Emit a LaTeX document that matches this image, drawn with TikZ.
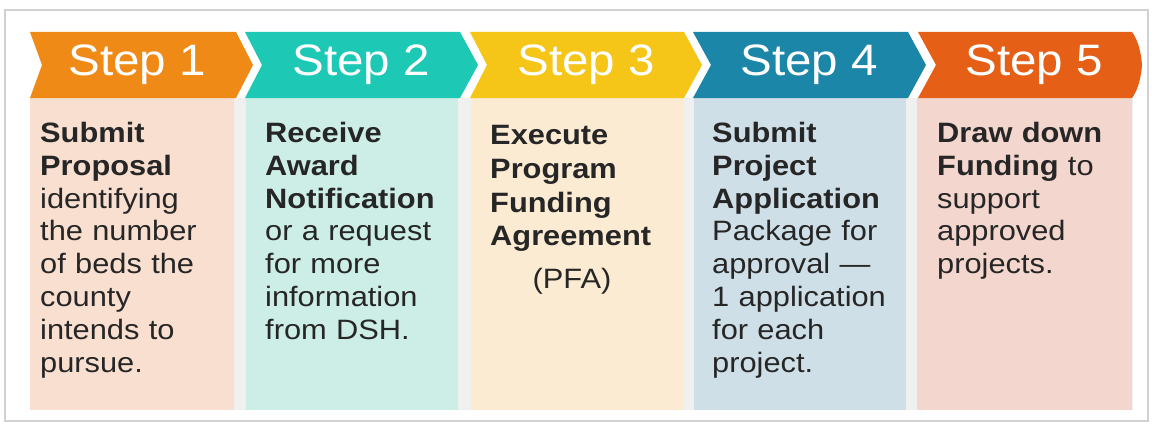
\documentclass[tikz,border=0pt]{standalone}
\usepackage{fontspec}
\newfontfamily\stepfont[FakeStretch=1.08]{Liberation Sans}
\newfontfamily\bodyfont[FakeStretch=1.1]{Liberation Sans}
\definecolor{cA}{HTML}{EF8A17}\definecolor{pA}{HTML}{F8DFD0}
\definecolor{cB}{HTML}{1DC8B5}\definecolor{pB}{HTML}{CDEEE6}
\definecolor{cC}{HTML}{F5C518}\definecolor{pC}{HTML}{FBEBD2}
\definecolor{cD}{HTML}{1C86A8}\definecolor{pD}{HTML}{CFDFE7}
\definecolor{cE}{HTML}{E65F17}\definecolor{pE}{HTML}{F3D6CD}
\definecolor{txt}{HTML}{262626}
\begin{document}
\begin{tikzpicture}[x=1pt,y=-1pt,
  steplabel/.style={text=white,font=\stepfont\fontsize{44}{48}\selectfont,inner sep=0pt},
  bodytext/.style={text=txt,font=\bodyfont\fontsize{28}{32.8}\selectfont,inner sep=0pt,align=left,anchor=north west,text width=200pt}]
\useasboundingbox (0,0) rectangle (1155,428);
\fill[white] (0,0) rectangle (1155,428);
\draw[black!18,line width=1.2pt,fill=white] (5,10) rectangle (1148,421);
\fill[black!6] (30,98) rectangle (1133,410);
% panels
\fill[pA] (30,98) rectangle (234,410);
\fill[pB] (246,98) rectangle (458,410);
\fill[pC] (471,98) rectangle (684,410);
\fill[pD] (694,98) rectangle (906,410);
\fill[pE] (917,98) rectangle (1132,410);
% chevrons
\fill[cA] (30,32) -- (236,32) -- (253,65) -- (236,98) -- (30,98) -- (42,65) -- cycle;
\fill[cB] (245,32) -- (460,32) -- (478,65) -- (460,98) -- (245,98) -- (262,65) -- cycle;
\fill[cC] (470,32) -- (684,32) -- (702,65) -- (684,98) -- (470,98) -- (487,65) -- cycle;
\fill[cD] (693,32) -- (908,32) -- (926,65) -- (908,98) -- (693,98) -- (711,65) -- cycle;
\fill[cE] (918,32) -- (1132,32) .. controls (1138,40) and (1141,52) .. (1142,65) .. controls (1141,78) and (1138,90) .. (1132,98) -- (918,98) -- (936,65) -- cycle;
% step labels
\node[steplabel] (s1) at (137,65) {Step 1};
\node[steplabel] (s2) at (361,65) {Step 2};
\node[steplabel] (s3) at (586,65) {Step 3};
\node[steplabel] (s4) at (809,65) {Step 4};
\node[steplabel] (s5) at (1034,65) {Step 5};
% body texts
\node[bodytext] (t1) at (40,122) {\textbf{Submit}\\\textbf{Proposal}\\identifying\\the number\\of beds the\\county\\intends to\\pursue.};
\node[bodytext] (t2) at (265,122) {\textbf{Receive}\\\textbf{Award}\\\textbf{Notification}\\or a request\\for more\\information\\from DSH.};
\node[bodytext,font=\bodyfont\fontsize{28}{33.8}\selectfont] (t3) at (490,125) {\textbf{Execute}\\\textbf{Program}\\\textbf{Funding}\\\textbf{Agreement}};
\node[text=txt,font=\bodyfont\fontsize{28}{32.8}\selectfont,inner sep=0pt] (t3b) at (572,281) {(PFA)};
\node[bodytext] (t4) at (712,122) {\textbf{Submit}\\\textbf{Project}\\\textbf{Application}\\Package for\\approval —\\1 application\\for each\\project.};
\node[bodytext] (t5) at (937,122) {\textbf{Draw down}\\\textbf{Funding} to\\support\\approved\\projects.};
\end{tikzpicture}
\end{document}
